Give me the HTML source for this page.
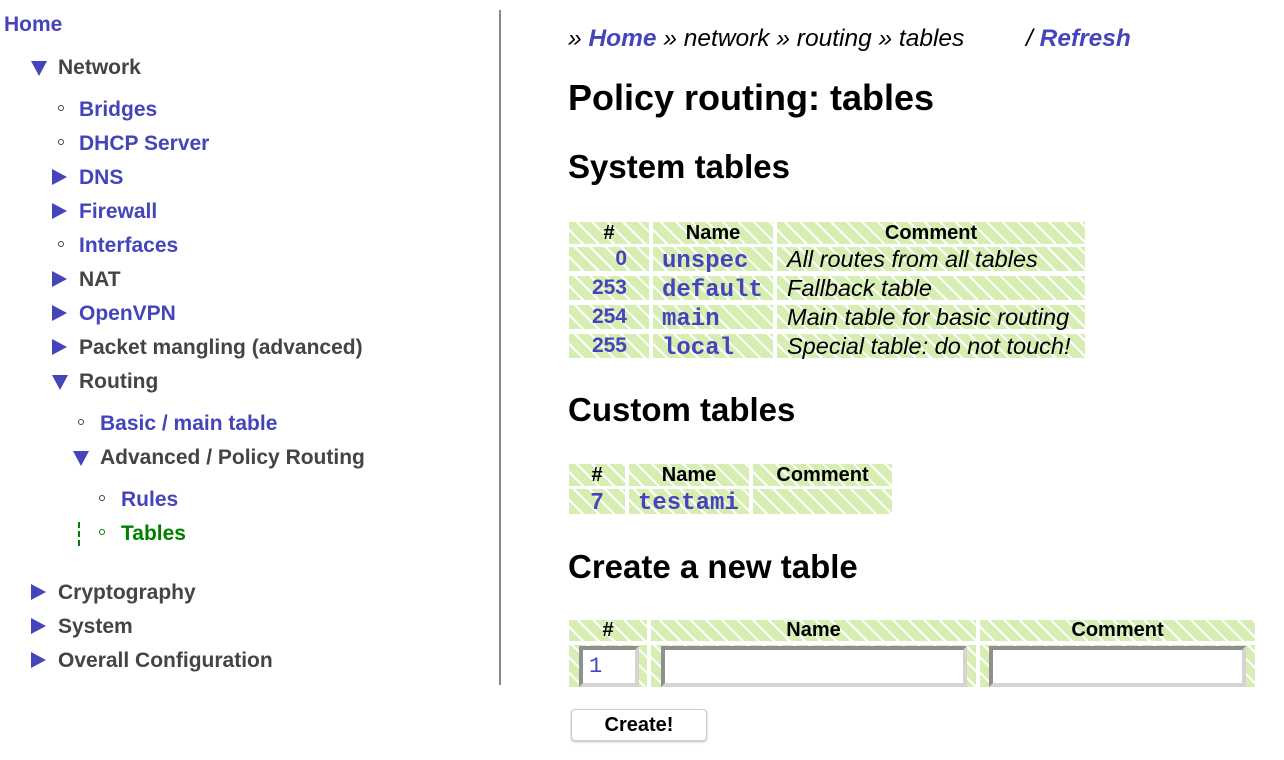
<!DOCTYPE html>
<html><head><meta charset="utf-8"><style>
body{margin:0;width:1284px;height:760px;background:#fff;position:relative;overflow:hidden;font-family:"Liberation Sans",sans-serif}
.t{position:absolute;white-space:nowrap;line-height:24px;font-weight:bold;font-size:21px;margin-top:2px}
.b{color:#4444bb}.g{color:#444}.gr{color:#008000}
.bul{position:absolute;width:4px;height:4px;border:1.3px solid #444;border-radius:50%}
.td{position:absolute;width:0;height:0;border-left:8px solid transparent;border-right:8px solid transparent;border-top:15px solid #4444bb}
.tr{position:absolute;width:0;height:0;border-top:8px solid transparent;border-bottom:8px solid transparent;border-left:15px solid #4444bb}
.c{position:absolute;background:repeating-linear-gradient(45deg,#d6eeb2 0,#d6eeb2 9px,#fff 9px,#fff 11px);font-size:21px;line-height:24px;white-space:nowrap;box-sizing:border-box}
.h{font-weight:bold;text-align:center;color:#000}
.n{color:#4444bb;font-weight:bold;text-align:right;padding-right:22px}
.m{font-family:"Liberation Mono",monospace;font-weight:bold;color:#4444bb;padding-left:9px;font-size:24px;line-height:30px}
.i{font-style:italic;padding-left:10px;font-size:23.5px}
.in{position:absolute;background:#fff;border-top:4px solid #8f8f8f;border-left:4px solid #8f8f8f;border-right:4px solid #d4d4d4;border-bottom:4px solid #d4d4d4;box-sizing:border-box}
.hd{position:absolute;font-weight:bold;white-space:nowrap;color:#000}
</style></head><body>
<div class="t b" style="left:4px;top:11px">Home</div>
<div class="td" style="left:31px;top:61px"></div><div class="t g" style="left:58px;top:54px">Network</div>
<div class="bul" style="left:58px;top:105px"></div><div class="t b" style="left:79px;top:96px">Bridges</div>
<div class="bul" style="left:58px;top:139px"></div><div class="t b" style="left:79px;top:130px">DHCP Server</div>
<div class="tr" style="left:52px;top:169px"></div><div class="t b" style="left:79px;top:164px">DNS</div>
<div class="tr" style="left:52px;top:203px"></div><div class="t b" style="left:79px;top:198px">Firewall</div>
<div class="bul" style="left:58px;top:241px"></div><div class="t b" style="left:79px;top:232px">Interfaces</div>
<div class="tr" style="left:52px;top:271px"></div><div class="t g" style="left:79px;top:266px">NAT</div>
<div class="tr" style="left:52px;top:305px"></div><div class="t b" style="left:79px;top:300px">OpenVPN</div>
<div class="tr" style="left:52px;top:339px"></div><div class="t g" style="left:79px;top:334px">Packet mangling (advanced)</div>
<div class="td" style="left:52px;top:375px"></div><div class="t g" style="left:79px;top:368px">Routing</div>
<div class="bul" style="left:78px;top:419px"></div><div class="t b" style="left:100px;top:410px">Basic / main table</div>
<div class="td" style="left:73px;top:451px"></div><div class="t g" style="left:100px;top:444px">Advanced / Policy Routing</div>
<div class="bul" style="left:99px;top:495px"></div><div class="t b" style="left:121px;top:486px">Rules</div>
<div style="position:absolute;left:78px;top:522px;height:24px;border-left:2px dashed #008000"></div>
<div class="bul" style="left:99px;top:529px;border-color:#008000"></div><div class="t gr" style="left:121px;top:520px">Tables</div>
<div class="tr" style="left:31px;top:584px"></div><div class="t g" style="left:58px;top:579px">Cryptography</div>
<div class="tr" style="left:31px;top:618px"></div><div class="t g" style="left:58px;top:613px">System</div>
<div class="tr" style="left:31px;top:652px"></div><div class="t g" style="left:58px;top:647px">Overall Configuration</div>
<div style="position:absolute;left:499px;top:10px;width:2px;height:675px;background:#888"></div>

<div class="hd" style="left:568px;top:25px;font-size:24.5px;line-height:28px;font-style:italic;font-weight:normal">» <b style="color:#4444bb">Home</b> » network » routing » tables</div>
<div class="hd" style="left:1026px;top:25px;font-size:24.5px;line-height:28px;font-style:italic;font-weight:normal">/ <b style="color:#4444bb">Refresh</b></div>
<div class="hd" style="left:568px;top:78px;font-size:36px;line-height:40px">Policy routing: tables</div>
<div class="hd" style="left:568px;top:149px;font-size:33px;line-height:36px">System tables</div>
<div class="hd" style="left:568px;top:392px;font-size:33px;line-height:36px">Custom tables</div>
<div class="hd" style="left:568px;top:549px;font-size:33px;line-height:36px">Create a new table</div>

<div class="c h" style="left:569px;top:222px;width:80px;height:22px;line-height:22px;font-size:20px">#</div>
<div class="c h" style="left:653px;top:222px;width:120px;height:22px;line-height:22px;font-size:20px">Name</div>
<div class="c h" style="left:777px;top:222px;width:308px;height:22px;line-height:22px;font-size:20px">Comment</div>

<div class="c n" style="left:569px;top:247px;width:80px;height:24px">0</div>
<div class="c m" style="left:653px;top:247px;width:120px;height:24px">unspec</div>
<div class="c i" style="left:777px;top:247px;width:308px;height:24px">All routes from all tables</div>
<div class="c n" style="left:569px;top:276px;width:80px;height:24px">253</div>
<div class="c m" style="left:653px;top:276px;width:120px;height:24px">default</div>
<div class="c i" style="left:777px;top:276px;width:308px;height:24px">Fallback table</div>
<div class="c n" style="left:569px;top:305px;width:80px;height:24px">254</div>
<div class="c m" style="left:653px;top:305px;width:120px;height:24px">main</div>
<div class="c i" style="left:777px;top:305px;width:308px;height:24px">Main table for basic routing</div>
<div class="c n" style="left:569px;top:334px;width:80px;height:24px">255</div>
<div class="c m" style="left:653px;top:334px;width:120px;height:24px">local</div>
<div class="c i" style="left:777px;top:334px;width:308px;height:24px">Special table: do not touch!</div>

<div class="c h" style="left:569px;top:464px;width:56px;height:22px;line-height:22px;font-size:20px">#</div>
<div class="c h" style="left:629px;top:464px;width:120px;height:22px;line-height:22px;font-size:20px">Name</div>
<div class="c h" style="left:753px;top:464px;width:139px;height:22px;line-height:22px;font-size:20px">Comment</div>
<div class="c n" style="left:569px;top:489px;width:56px;height:25px;text-align:center;padding:0;font-size:23px">7</div>
<div class="c m" style="left:629px;top:489px;width:120px;height:25px">testami</div>
<div class="c" style="left:753px;top:489px;width:139px;height:25px"></div>

<div class="c h" style="left:569px;top:620px;width:78px;height:21px;line-height:21px;font-size:20px">#</div>
<div class="c h" style="left:651px;top:620px;width:325px;height:21px;line-height:21px;font-size:20px">Name</div>
<div class="c h" style="left:980px;top:620px;width:275px;height:21px;line-height:21px;font-size:20px">Comment</div>
<div class="c" style="left:569px;top:645px;width:78px;height:42px"></div>
<div class="c" style="left:651px;top:645px;width:325px;height:42px"></div>
<div class="c" style="left:980px;top:645px;width:275px;height:42px"></div>
<div class="in" style="left:579px;top:646px;width:60px;height:41px;font-family:'Liberation Mono',monospace;color:#4444bb;font-size:22px;line-height:33px;padding-left:6px">1</div>
<div class="in" style="left:661px;top:646px;width:306px;height:41px"></div>
<div class="in" style="left:989px;top:646px;width:257px;height:41px"></div>

<div style="position:absolute;left:571px;top:709px;width:136px;height:32px;box-sizing:border-box;border:1px solid #ccc;border-radius:4px;background:#fff;box-shadow:0 1px 2px #bbb;text-align:center;font-weight:bold;font-size:20px;line-height:30px">Create!</div>
</body></html>
